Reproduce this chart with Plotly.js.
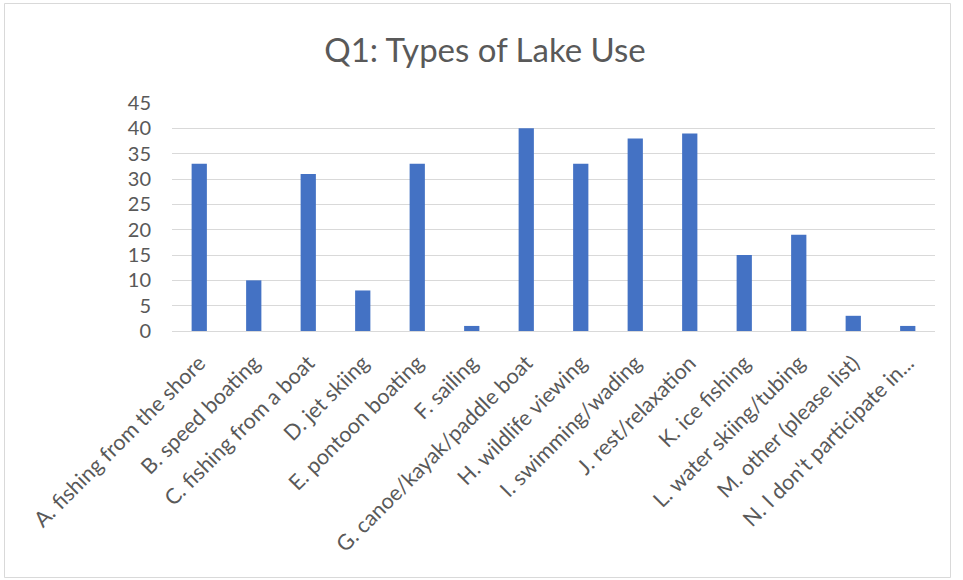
<!DOCTYPE html>
<html>
<head>
<meta charset="utf-8">
<script src="https://cdn.plot.ly/plotly-3.0.1.min.js"></script>
<style>html,body{margin:0;padding:0;background:#fff;}#chart{width:963px;height:580px;}</style>
</head>
<body>
<div id="chart"></div>
<script>
const categories = [
  "A. fishing from the shore",
  "B. speed boating",
  "C. fishing from a boat",
  "D. jet skiing",
  "E. pontoon boating",
  "F. sailing",
  "G. canoe/kayak/paddle boat",
  "H. wildlife viewing",
  "I. swimming/wading",
  "J. rest/relaxation",
  "K. ice fishing",
  "L. water skiing/tubing",
  "M. other (please list)",
  "N. I don't participate in..."
];
const counts = [33, 10, 31, 8, 33, 1, 40, 33, 38, 39, 15, 19, 3, 1];
const yTicks = [0, 5, 10, 15, 20, 25, 30, 35, 40, 45];

const W = 963, H = 580;
const margin = {l: 172, r: 28, t: 103, b: 249};
const pw = W - margin.l - margin.r, ph = H - margin.t - margin.b;
function px2x(p){ return (p - margin.l) / pw; }
function py2y(p){ return (H - margin.b - p) / ph; }

const font = "Lato, 'Open Sans', sans-serif";
const trace = {
  type: 'bar',
  x: categories,
  y: counts,
  marker: {color: '#4472C4'},
  hoverinfo: 'x+y'
};
const layout = {
  width: W, height: H,
  margin: margin,
  paper_bgcolor: '#fff',
  plot_bgcolor: '#fff',
  bargap: 0.72,
  showlegend: false,
  title: {
    text: 'Q1: Types of Lake Use',
    font: {family: font, size: 33, color: '#595959'},
    x: px2x(485), xanchor: 'center', xref: 'paper',
    y: 1 - 50 / H, yanchor: 'middle', yref: 'container'
  },
  xaxis: {
    type: 'category',
    tickangle: -45,
    tickfont: {family: font, size: 21.5, color: '#595959'},
    showgrid: false,
    showline: true, linecolor: '#D9D9D9', linewidth: 1,
    ticks: '', ticklabelstandoff: 10, automargin: false
  },
  yaxis: {
    range: [0, 45],
    tickvals: yTicks,
    ticktext: yTicks.map(String),
    tickfont: {family: font, size: 20, color: '#595959'},
    gridcolor: '#D9D9D9', gridwidth: 1,
    zeroline: false, showline: false,
    ticks: '', ticklabelstandoff: 20, automargin: false
  },
  shapes: [{
    type: 'rect', xref: 'paper', yref: 'paper',
    x0: px2x(4.5), x1: px2x(950.5), y0: py2y(577.5), y1: py2y(3.5),
    line: {color: '#D9D9D9', width: 1}, fillcolor: 'rgba(0,0,0,0)', layer: 'below'
  }]
};
Plotly.newPlot('chart', [trace], layout, {displayModeBar: false, staticPlot: true});
</script>
</body>
</html>
